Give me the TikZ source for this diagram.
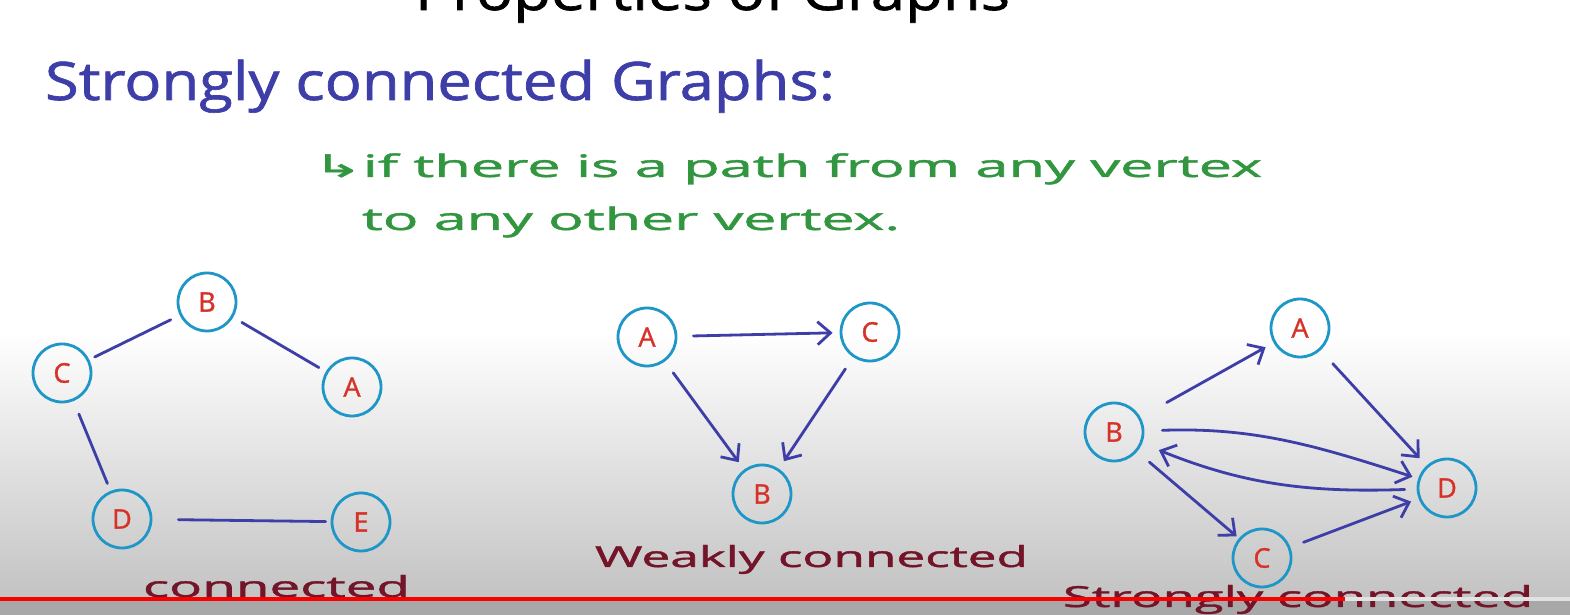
\documentclass[tikz,border=0pt]{standalone}
\usepackage{fontspec}
\usepackage{graphicx}
\setmainfont{Open Sans}
\newfontfamily\hand[FakeBold=1.2]{Open Sans}
\newfontfamily\symf[FakeBold=1.2]{DejaVu Sans}
\usetikzlibrary{arrows.meta}
\definecolor{ink}{RGB}{62,62,168}
\definecolor{vring}{RGB}{30,150,200}
\definecolor{vlet}{RGB}{215,50,40}
\definecolor{grn}{RGB}{50,150,65}
\definecolor{lab}{RGB}{115,20,40}
\definecolor{bgbot}{RGB}{195,195,195}
\definecolor{bgstrip}{RGB}{168,168,168}
\definecolor{barred}{RGB}{250,0,0}
\definecolor{barrest}{RGB}{226,226,226}
\newcommand\fitw[2]{\resizebox{#1}{\height}{#2}}
\begin{document}
\begin{tikzpicture}[x=1pt,y=1pt,
  vtx/.style={circle, draw=vring, line width=2.8pt, minimum size=58pt, inner sep=0pt, text=vlet, font=\hand\fontsize{27}{27}\selectfont},
  edge/.style={draw=ink, line width=2.8pt, line cap=round},
  arr/.style={edge, -{Straight Barb[length=13pt,width=23pt]}},
  txt/.style={anchor=base west, inner sep=0pt, outer sep=0pt}
]
\useasboundingbox (0,0) rectangle (1570,615);
\fill[white] (0,0) rectangle (1570,615);
\shade[top color=white, bottom color=bgbot] (0,17) rectangle (1570,282);
\fill[bgstrip] (0,0) rectangle (1570,16);

% partially visible heading
\begin{scope}
\clip (0,0) rectangle (1570,615);
\node[txt, text=black, font=\hand\fontsize{53}{53}\selectfont] (head) at (415,605) {\fitw{595pt}{Properties of Graphs}};
\end{scope}

% texts
\node[txt, text=ink, font=\hand\fontsize{53}{53}\selectfont] (title) at (45,515) {\fitw{790pt}{Strongly connected Graphs:}};
\node[txt, text=grn, font=\hand\fontsize{31}{31}\selectfont] (def1) at (313,438) {\fitw{949pt}{{\symf ↳}if there is a path from any vertex}};
\node[txt, text=grn, font=\hand\fontsize{31}{31}\selectfont] (def2) at (362,385) {\fitw{538pt}{to any other vertex.}};

% graph 1: connected
\node[vtx] (b1) at (207,313) {B};
\node[vtx] (c1) at (62,242) {C};
\node[vtx] (a1) at (352,228) {A};
\node[vtx] (d1) at (122,96) {D};
\node[vtx] (e1) at (361,93) {E};
\draw[edge, shorten <=6pt, shorten >=10pt] (c1) -- (b1);
\draw[edge, shorten <=10pt, shorten >=8pt] (b1) -- (a1);
\draw[edge, shorten <=14pt, shorten >=8pt] (c1) -- (d1);
\draw[edge, shorten <=26pt, shorten >=5pt] (d1) -- (e1);
\node[txt, text=lab, font=\hand\fontsize{29}{29}\selectfont] (lab1) at (143,18) {\fitw{267pt}{connected}};

% graph 2: weakly connected
\node[vtx] (a2) at (647,278) {A};
\node[vtx] (c2) at (870,283) {C};
\node[vtx] (b2) at (762,121) {B};
\draw[arr, shorten <=16pt, shorten >=7pt] (a2) -- (c2);
\draw[arr, shorten <=14pt, shorten >=9pt] (a2) -- (b2);
\draw[arr, shorten <=14pt, shorten >=9pt] (c2) -- (b2);
\node[txt, text=lab, font=\hand\fontsize{29}{29}\selectfont] (lab2) at (595,48) {\fitw{433pt}{Weakly connected}};

% graph 3: strongly connected
\node[vtx] (a3) at (1300,287) {A};
\node[vtx] (b3) at (1114,183) {B};
\node[vtx] (d3) at (1447,127) {D};
\node[vtx] (c3) at (1262,57) {C};
\draw[arr, shorten <=30pt, shorten >=9pt] (b3) -- (a3);
\draw[arr, shorten <=18pt, shorten >=10pt] (a3) -- (d3);
\draw[arr, shorten <=18pt, shorten >=6pt] (b3) to[out=2, in=162] (d3);
\draw[arr, shorten <=12pt, shorten >=18pt] (d3) to[out=182, in=-22] (b3);
\draw[arr, shorten <=16pt, shorten >=3pt] (b3) -- (c3);
\draw[arr, shorten <=14pt, shorten >=8pt] (c3) -- (d3);
\node[txt, text=lab, font=\hand\fontsize{29}{29}\selectfont] (lab3) at (1063,8) {\fitw{470pt}{Strongly connected}};

% progress bar
\fill[barred] (0,14) rectangle (1345,18);
\fill[barrest] (1345,14) rectangle (1570,18);
\end{tikzpicture}
\end{document}
